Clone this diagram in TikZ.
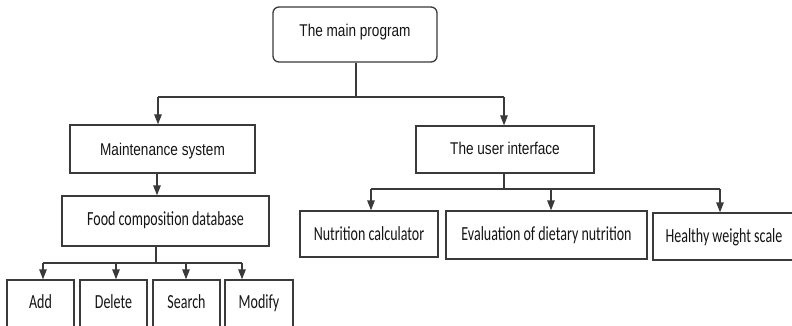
\documentclass[tikz,border=0pt]{standalone}
\usepackage{fontspec}
\newfontfamily\arialn{Liberation Sans}[FakeStretch=0.8]
\newfontfamily\calibn{Carlito}[FakeStretch=0.7]
\usetikzlibrary{arrows.meta}
\definecolor{linec}{HTML}{3A3A3A}
\definecolor{txtc}{HTML}{151515}
\begin{document}
\begin{tikzpicture}[x=1pt,y=-1pt,
  bx/.style 2 args={draw=linec, line width=1.3pt, inner sep=0pt, anchor=base,
     text height=#1, text depth=#2, text=txtc, align=center},
  afont/.style={font=\arialn\fontsize{17}{20}\selectfont},
  cfont/.style={font=\calibn\fontsize{20}{22}\selectfont},
  ln/.style={draw=linec, line width=1.3pt},
  arr/.style={ln, -{Triangle[length=10pt,width=7.5pt]}}]
\useasboundingbox (0,0) rectangle (792,326);
\clip (0,0) rectangle (792,326);
\fill[white] (0,0) rectangle (792,326);
% boxes
\node[bx={29.7pt}{25.3pt}, afont, rounded corners=6pt, minimum width=164pt] (main) at (355,36.7) {The main program};
\node[bx={30pt}{18pt}, afont, minimum width=185pt] (maint) at (162.5,155) {Maintenance system};
\node[bx={28.3pt}{18.7pt}, afont, minimum width=178pt] (ui) at (505,154.3) {The user interface};
\node[bx={29.7pt}{20.3pt}, cfont, minimum width=207pt] (food) at (165.5,225.7) {Food composition database};
\node[bx={28pt}{60pt}, cfont, minimum width=67pt] (add) at (40.5,308) {Add};
\node[bx={28pt}{60pt}, cfont, minimum width=67pt] (del) at (113.5,308) {Delete};
\node[bx={28pt}{60pt}, cfont, minimum width=67pt] (srch) at (186.5,308) {Search};
\node[bx={28pt}{60pt}, cfont, minimum width=68pt] (mod) at (259,308) {Modify};
\node[bx={29pt}{17pt}, cfont, minimum width=138pt] (nut) at (369,240) {Nutrition calculator};
\node[bx={29pt}{19pt}, cfont, minimum width=201pt] (eval) at (546.5,240) {Evaluation of dietary nutrition};
\node[bx={29.7pt}{17.3pt}, cfont, minimum width=142pt] (hws) at (724,242.7) {Healthy weight scale};
% connectors: main program
\coordinate (j1) at (356,97);
\coordinate (j1l) at (158,97);
\coordinate (j1r) at (504,97);
\draw[ln] ([xshift=1pt]main.south) -- (j1);
\draw[ln] (j1l) -- (j1r);
\draw[arr] (j1l) -- (j1l |- maint.north);
\draw[arr] (j1r) -- (j1r |- ui.north);
% maintenance -> food db
\draw[arr] ([xshift=-5.5pt]maint.south) -- ([xshift=-5.5pt]maint.south |- food.north);
% food db -> leaves
\coordinate (j2) at (156,263);
\coordinate (j2l) at (43,263);
\coordinate (j2r) at (242,263);
\coordinate (j2b) at (116,263);
\coordinate (j2c) at (186,263);
\draw[ln] (food.south -| j2) -- (j2);
\draw[ln] (j2l) -- (j2r);
\draw[arr] (j2l) -- (j2l |- add.north);
\draw[arr] (j2b) -- (j2b |- del.north);
\draw[arr] (j2c) -- (j2c |- srch.north);
\draw[arr] (j2r) -- (j2r |- mod.north);
% user interface -> leaves
\coordinate (j3) at (504,189);
\coordinate (j3l) at (371,189);
\coordinate (j3m) at (551,189);
\coordinate (j3r) at (720,189);
\draw[ln] (ui.south -| j3) -- (j3);
\draw[ln] (j3l) -- (j3r);
\draw[arr] (j3l) -- (j3l |- nut.north);
\draw[arr] (j3m) -- (j3m |- eval.north);
\draw[arr] (j3r) -- (j3r |- hws.north);
\end{tikzpicture}
\end{document}
